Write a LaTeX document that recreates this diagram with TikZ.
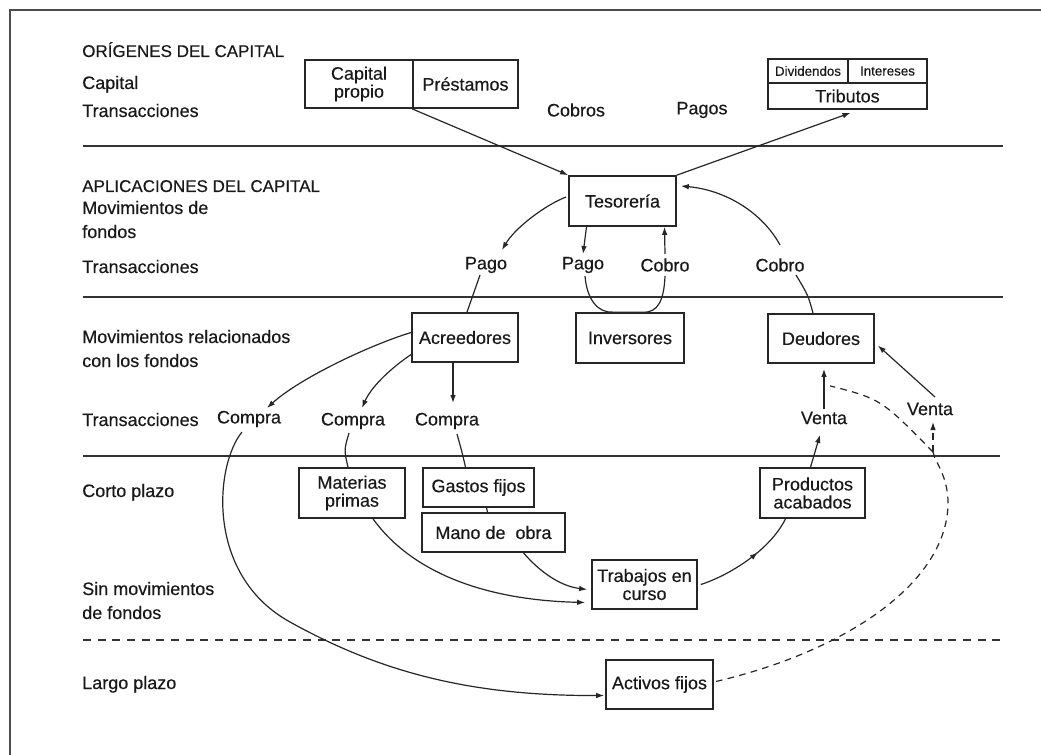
\documentclass[tikz,border=0pt]{standalone}
\usepackage{fontspec}
\setmainfont{Liberation Sans}[FakeBold=0.35]
\usetikzlibrary{arrows.meta,calc,decorations.markings}

% one unit of the drawing grid
\newcommand{\pxu}{0.75pt}

\begin{document}
\begin{tikzpicture}[x=0.75pt,y=-0.75pt,
  box/.style={draw=black!85, line width=1.3pt, inner sep=0pt, align=center,
    text=black!90, font=\fontsize{13.5}{13.5}\selectfont},
  smallbox/.style={box, font=\fontsize{10}{10}\selectfont},
  lab/.style={inner sep=1pt, text=black!90, font=\fontsize{13.5}{13.5}\selectfont},
  side/.style={anchor=base west, inner sep=0pt, text=black!90,
    font=\fontsize{13.5}{16}\selectfont},
  head/.style={side, font=\fontsize{12.75}{15}\selectfont},
  sepline/.style={draw=black!80, line width=1.2pt},
  conn/.style={draw=black!85, line width=0.9pt},
  arr/.style={conn, -{Latex[length=6pt,width=4.2pt]}},
  dashconn/.style={conn, dash pattern=on 5pt off 4pt},
  midarrow/.style={postaction={decorate}, decoration={markings,
    mark=at position #1 with {\arrow{Latex[length=6pt,width=4.2pt]}}}}
]
\useasboundingbox (0,0) rectangle (1041,755);

% outer frame (top and left edges)
\draw[draw=black!70, line width=2.2pt] (10,755) -- (10,10) -- (1041,10);

% band separators
\draw[sepline] (83,146) -- (1003,146);
\draw[sepline] (83,297) -- (1003,297);
\draw[sepline] (83,456) -- (1000,456);
\draw[sepline, line width=1pt, dash pattern=on 6pt off 5pt] (83,640) -- (1000,640);

% row titles on the left
\node[head] (hOrig) at (82,57) {ORÍGENES DEL CAPITAL};
\node[side] (sCap) at (82,89) {Capital};
\node[side] (sTr1) at (82,117) {Transacciones};
\node[head] (hApl) at (82,192) {APLICACIONES DEL CAPITAL};
\node[side] (sMov1) at (82,214) {Movimientos de};
\node[side] (sMov2) at (82,238) {fondos};
\node[side] (sTr2) at (82,273) {Transacciones};
\node[side] (sRel1) at (82,343) {Movimientos relacionados};
\node[side] (sRel2) at (82,367) {con los fondos};
\node[side] (sTr3) at (82,426) {Transacciones};
\node[side] (sCorto) at (82,497) {Corto plazo};
\node[side] (sSin1) at (82,595) {Sin movimientos};
\node[side] (sSin2) at (82,619) {de fondos};
\node[side] (sLargo) at (82,689) {Largo plazo};

% boxes
\node[box, minimum width=108*\pxu, minimum height=48*\pxu] (cp) at (359,84) {Capital\\propio};
\node[box, minimum width=105*\pxu, minimum height=48*\pxu] (pr) at (465.5,84) {Préstamos};
\node[smallbox, minimum width=80*\pxu, minimum height=24*\pxu] (div) at (808,71) {Dividendos};
\node[smallbox, minimum width=79*\pxu, minimum height=24*\pxu] (int) at (887.5,71) {Intereses};
\node[box, minimum width=159*\pxu, minimum height=26*\pxu] (trib) at (847.5,96) {Tributos};
\node[box, minimum width=107*\pxu, minimum height=50*\pxu] (tes) at (622.5,201) {Tesorería};
\node[box, minimum width=106*\pxu, minimum height=49*\pxu] (acre) at (465,337.5) {Acreedores};
\node[box, minimum width=108*\pxu, minimum height=50*\pxu] (inv) at (630,338) {Inversores};
\node[box, minimum width=106*\pxu, minimum height=49*\pxu] (deu) at (821,338.5) {Deudores};
\node[box, minimum width=106*\pxu, minimum height=50*\pxu] (mat) at (352,493) {Materias\\primas};
\node[box, minimum width=111*\pxu, minimum height=39*\pxu] (gas) at (478.5,487.5) {Gastos fijos};
\node[box, minimum width=143*\pxu, minimum height=39*\pxu] (mano) at (493.5,532.5) {Mano de\ \ obra};
\node[box, minimum width=105*\pxu, minimum height=49*\pxu] (trab) at (644.5,584.5) {Trabajos en\\curso};
\node[box, minimum width=105*\pxu, minimum height=50*\pxu] (prod) at (812.5,493) {Productos\\acabados};
\node[box, minimum width=107*\pxu, minimum height=49*\pxu] (act) at (659.5,684.5) {Activos fijos};

% transaction labels
\node[lab] (cobros) at (576,110) {Cobros};
\node[lab] (pagos) at (702,110) {Pagos};
\node[lab] (pago1) at (486,265) {Pago};
\node[lab] (pago2) at (583,265) {Pago};
\node[lab] (cobro1) at (665,265) {Cobro};
\node[lab] (cobro2) at (780,265) {Cobro};
\node[lab] (compra1) at (249,419) {Compra};
\node[lab] (compra2) at (353,421) {Compra};
\node[lab] (compra3) at (447,421) {Compra};
\node[lab] (venta1) at (824,418) {Venta};
\node[lab] (venta2) at (930,409) {Venta};

% capital flows into and out of the treasury
\draw[arr] (pr.south west) -- (tes.north west);
\draw[arr] (tes.north east) -- ($(trib.south)+(3,3)$);

% treasury payments and collections
\draw[arr] ($(tes.west)+(-2,-4)$) .. controls (545,205) and (515,228) .. ($(pago1)+(16,-15)$);
\draw[conn] ($(pago1)+(-6,10)$) -- ($(acre.north)+(2,0)$);
\draw[arr] ($(tes.south)+(-36,0)$) -- ($(pago2)+(0,-11)$);
\draw[conn] ($(pago2)+(2,11)$) .. controls (587,300) and (598,313) .. ($(inv.north)+(-17,0)$)
  -- ($(inv.north)+(13,0)$) .. controls (658,313) and (664,300) .. ($(cobro1)+(0,11)$);
\draw[arr] ($(cobro1)+(0,-11)$) -- ($(tes.south)+(42,0)$);
\draw[conn] ($(deu.north)+(-8,0)$) .. controls (808,295) .. ($(cobro2)+(16,10)$);
\draw[arr] ($(cobro2)+(0,-20)$) .. controls (762,212) and (725,190) .. ($(tes.east)+(4,-15)$);

% purchases from the creditors
\draw[arr] ($(acre.west)+(0,-5)$) .. controls (370,345) and (300,378) .. ($(compra1)+(18,-11)$);
\draw[arr] ($(acre.south west)+(1,-9)$) .. controls (395,365) and (372,385) .. ($(compra2)+(9,-13)$);
\draw[arr] ($(acre.south)+(-12,0)$) -- ($(compra3)+(6,-18)$);
\draw[conn] ($(compra2)+(-4,12)$) .. controls (344,450) .. ($(mat.north)+(-4,0)$);
\draw[conn] ($(compra3)+(10,13)$) .. controls (462,452) .. ($(gas.north)+(-13,0)$);
\draw[conn] ($(gas.south)+(8,0)$) -- ($(mano.north)+(-6,0)$);
\draw[arr] ($(compra1)+(-7,13)$) .. controls (215,465) and (205,575) .. (290,622)
  .. controls (380,672) and (470,696) .. ($(act.west)+(-1,11)$);

% production cycle
\draw[arr] ($(mat.south)+(21,0)$) .. controls (410,570) and (480,600) .. ($(trab.west)+(-6,18)$);
\draw[arr] ($(mano.south)+(30,0)$) .. controls (540,572) and (560,586) .. ($(trab.west)+(-4,5)$);
\draw[conn, midarrow=0.6] ($(trab.east)+(3,0)$) .. controls (730,575) and (770,550) .. ($(prod.south)+(-27,0)$);

% sales
\draw[arr] ($(prod.north)+(-2,0)$) -- ($(venta1)+(-4,17)$);
\draw[arr] ($(venta1)+(0,-9)$) -- ($(deu.south)+(3,5)$);
\draw[arr] ($(venta2)+(5,-12)$) -- ($(deu.east)+(3,7)$);

% sale of fixed assets
\coordinate (fork) at (933,452);
\draw[dashconn] ($(act.east)+(2,-3)$) .. controls (850,650) and (950,580) .. (948,500)
  .. controls (947,475) and (935,462) .. (fork);
\draw[dashconn, -{Latex[length=6pt,width=4.2pt]}] (fork) -- ($(venta2)+(3,13)$);
\draw[dashconn] (fork) .. controls (881,399) .. ($(deu.south)+(9,22)$);
\end{tikzpicture}
\end{document}
